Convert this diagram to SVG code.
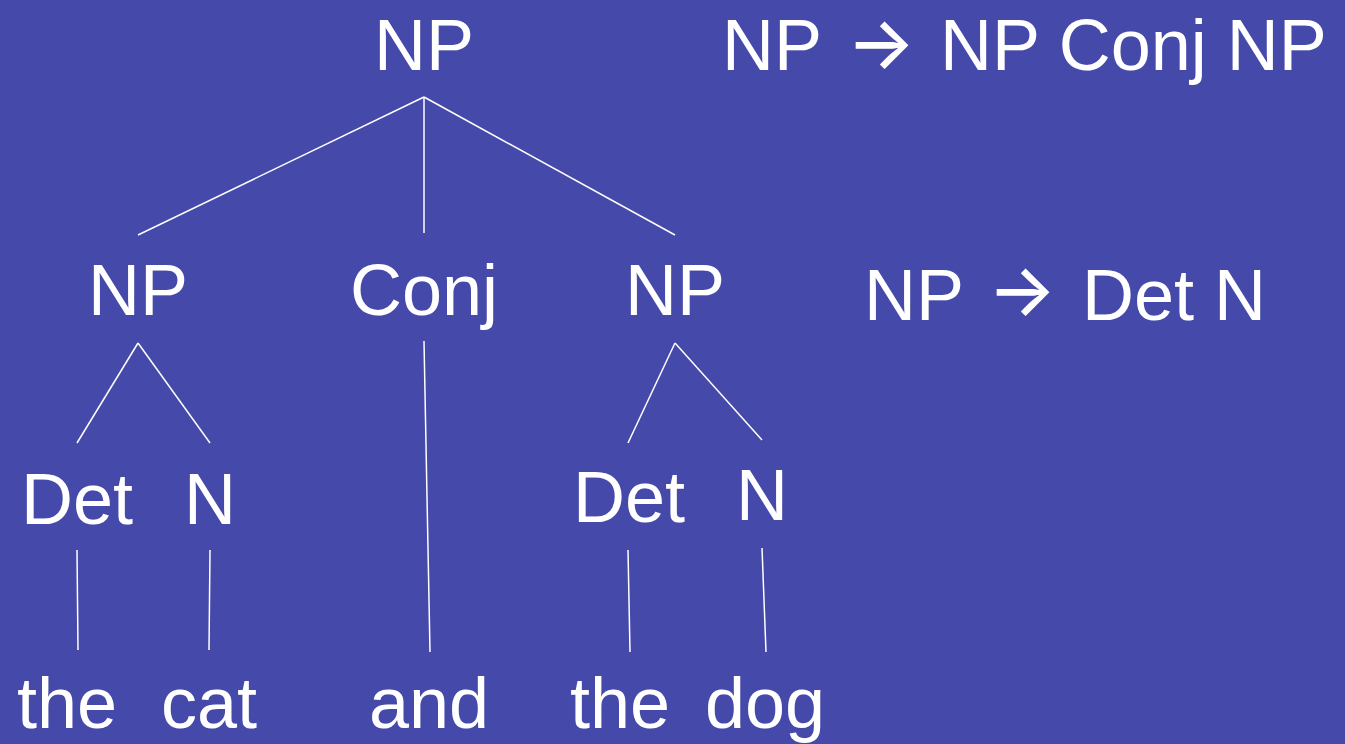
<svg xmlns="http://www.w3.org/2000/svg" width="1345" height="744" viewBox="0 0 1345 744">
<style>
text{font-family:"Liberation Sans",Arial,sans-serif;font-size:72px;fill:#fff}
.m{text-anchor:middle}
.arr{text-anchor:middle;font-family:Inter,"Liberation Sans",sans-serif;font-size:72px;font-weight:500}
#edges line{stroke:#fff;stroke-width:1.5;fill:none}
</style>
<rect width="1345" height="744" fill="#4549a9"/>
<g id="edges">
<line x1="424" y1="97" x2="138" y2="235"/>
<line x1="424" y1="97" x2="424" y2="233"/>
<line x1="424" y1="97" x2="675" y2="235"/>
<line x1="138" y1="343" x2="77" y2="443"/>
<line x1="138" y1="343" x2="210" y2="443"/>
<line x1="424" y1="341" x2="430" y2="652"/>
<line x1="675" y1="343" x2="628" y2="443"/>
<line x1="675" y1="343" x2="762" y2="440"/>
<line x1="77" y1="550" x2="78" y2="650"/>
<line x1="210" y1="550" x2="209" y2="650"/>
<line x1="628" y1="550" x2="630" y2="652"/>
<line x1="762" y1="548" x2="766" y2="652"/>
</g>
<g id="np-root"><text class="m" x="424" y="70">NP</text></g>
<g id="rule1"><text x="722" y="70">NP</text><text class="arr" x="881" y="68">→</text><text x="940" y="70">NP Conj NP</text></g>
<g id="np-left"><text class="m" x="138" y="315">NP</text></g>
<g id="conj"><text class="m" x="424" y="315">Conj</text></g>
<g id="np-right"><text class="m" x="675" y="315">NP</text></g>
<g id="rule2"><text x="864" y="320">NP</text><text class="arr" x="1022" y="315">→</text><text x="1082" y="320">Det N</text></g>
<g id="det-left"><text class="m" x="77" y="524">Det</text></g>
<g id="n-left"><text class="m" x="210" y="524">N</text></g>
<g id="det-right"><text class="m" x="629" y="522">Det</text></g>
<g id="n-right"><text class="m" x="762" y="520">N</text></g>
<g id="w-the1"><text class="m" x="67" y="728">the</text></g>
<g id="w-cat"><text class="m" x="209" y="728">cat</text></g>
<g id="w-and"><text class="m" x="429" y="728">and</text></g>
<g id="w-the2"><text class="m" x="620" y="728">the</text></g>
<g id="w-dog"><text class="m" x="765" y="728">dog</text></g>
</svg>
